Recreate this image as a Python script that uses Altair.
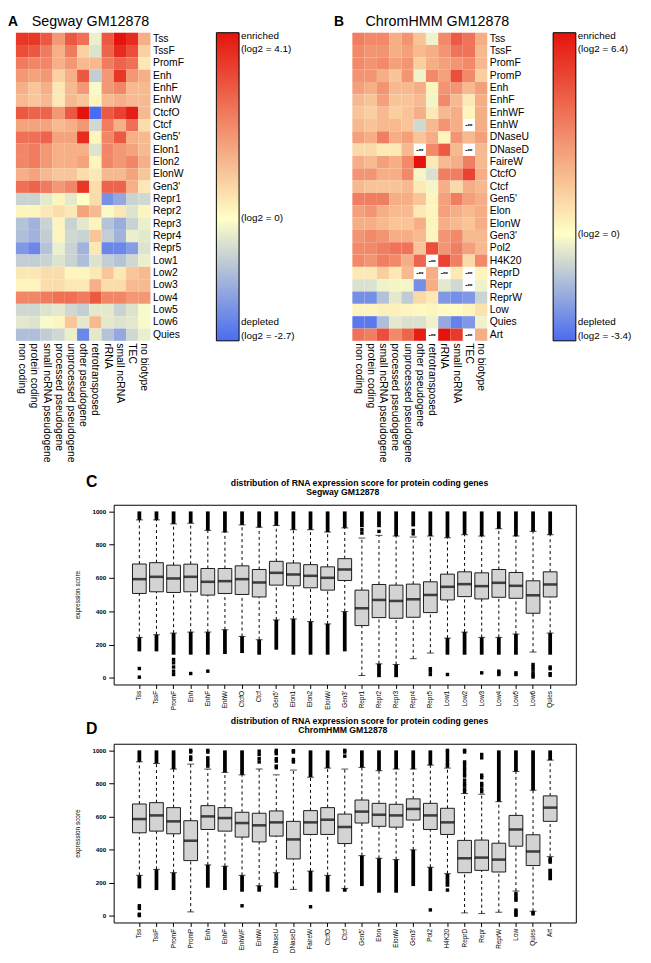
import altair as alt
import pandas as pd

# ------------------------------------------------------------------ data
biotypes = ["non coding", "protein coding", "small ncRNA pseudogene",
            "processed pseudogene", "unprocessed pseudogene", "other pseudogene",
            "retrotransposed", "rRNA", "small ncRNA", "TEC", "no biotype"]

segway_states = ["Tss", "TssF", "PromF", "Enh", "EnhF", "EnhW", "CtcfO", "Ctcf",
                 "Gen5'", "Elon1", "Elon2", "ElonW", "Gen3'", "Repr1", "Repr2",
                 "Repr3", "Repr4", "Repr5", "Low1", "Low2", "Low3", "Low4", "Low5",
                 "Low6", "Quies"]

chromhmm_states = ["Tss", "TssF", "PromF", "PromP", "Enh", "EnhF", "EnhWF", "EnhW",
                   "DNaseU", "DNaseD", "FaireW", "CtcfO", "Ctcf", "Gen5'", "Elon",
                   "ElonW", "Gen3'", "Pol2", "H4K20", "ReprD", "Repr", "ReprW",
                   "Low", "Quies", "Art"]

NINF = None  # log2 = -infinity (no overlap)

# log2 enrichment, rows = states, columns = biotypes
segway_log2 = [
    [3.5, 3.5, 2.9, 1.8, 2.9, 2.5, -0.3, 2.9, 4.1, 3.7, 1.4],
    [3.1, 2.9, 2.3, 1.4, 2.3, 0.8, -0.5, 2.7, 3.7, 3.1, 0.8],
    [2.3, 2.1, 2.1, 1.4, 1.8, 1.2, 1.2, 2.3, 2.7, 2.5, 0.4],
    [1.8, 1.6, 1.8, 0.8, 1.4, 2.9, -0.9, 1.8, 3.5, 1.8, 1.4],
    [1.4, 1.0, 1.4, 0.4, 1.2, 1.8, -0.1, 1.8, 2.1, 1.2, 1.2],
    [1.2, 1.0, 1.2, 0.4, 1.2, 1.0, 0.2, 1.2, 1.4, 1.2, 1.2],
    [2.9, 2.7, 2.7, 1.8, 2.9, 4.1, -2.7, 2.9, 3.3, 3.9, 1.2],
    [1.6, 1.6, 1.6, 1.2, 1.4, 1.8, -0.7, 2.3, 1.4, 2.5, 0.6],
    [2.5, 2.5, 2.7, 1.6, 1.6, 3.7, 0.2, 2.1, 2.9, 1.4, 1.2],
    [2.1, 2.3, 1.8, 1.4, 1.4, 1.4, -0.5, 2.1, 1.8, 1.6, 1.2],
    [2.1, 2.3, 1.8, 1.4, 1.4, 1.6, 0.2, 2.1, 1.8, 2.1, 1.4],
    [1.4, 1.6, 1.2, 1.0, 1.0, 0.6, 0.4, 1.2, 1.2, 1.6, 1.0],
    [2.5, 2.7, 2.3, 1.8, 2.1, 3.5, 0.6, 2.7, 2.7, 1.4, 0.4],
    [-0.8, -0.8, -0.4, 0.2, -0.4, 0.0, 0.6, -2.0, -1.6, -0.8, -0.7],
    [0.2, 0.2, 0.4, 0.6, 0.4, 1.6, 1.2, -0.1, 0.4, -0.5, 0.2],
    [-1.1, -1.4, -0.8, 0.2, -0.8, -0.4, 0.2, -1.1, -1.5, -0.8, -0.3],
    [-1.2, -1.4, -0.9, 0.2, -0.7, -0.8, 1.0, -0.9, -1.4, -0.3, -0.4],
    [-1.9, -2.2, -1.1, -0.3, -0.8, -1.4, 0.4, -2.2, -2.2, -1.8, -0.5],
    [-0.9, -0.9, -0.8, -0.5, -0.8, -1.2, -0.5, -0.9, -1.1, -0.7, -0.3],
    [0.4, 0.4, 0.6, 0.6, 0.2, 0.2, 0.4, 1.0, 0.4, 1.0, 1.2],
    [0.2, 0.2, 0.6, 0.6, 0.4, 0.4, 1.4, 0.6, 0.6, 1.2, 1.2],
    [2.1, 2.1, 2.3, 2.5, 2.5, 2.3, 2.9, 2.1, 2.1, 1.8, 1.8],
    [-0.7, -0.7, -0.5, -0.4, -0.7, -0.9, -0.4, -0.4, -0.8, -0.5, -0.1],
    [-0.4, -0.5, -0.1, 0.2, 1.0, -0.4, 1.2, -0.4, -0.5, -0.4, -0.1],
    [-1.2, -1.2, -0.9, -0.7, -0.3, -2.2, -0.4, -1.1, -1.6, -0.7, -0.3],
]

chromhmm_log2 = [
    [3.5, 3.2, 3.2, 2.2, 2.9, 1.6, -0.3, 3.2, 4.5, 3.8, 2.2],
    [3.2, 2.9, 2.9, 2.2, 2.6, 1.9, 2.2, 2.9, 3.8, 3.8, 1.9],
    [3.2, 2.9, 3.2, 2.6, 2.9, 1.3, 2.2, 2.6, 2.9, 3.2, 1.9],
    [2.9, 2.9, 2.2, 1.6, 2.9, -0.3, 3.2, 2.6, 4.8, 3.2, 1.3],
    [2.6, 2.2, 2.9, 1.9, 1.9, 2.2, 0.3, 2.9, 2.9, 1.9, 2.6],
    [1.9, 1.6, 2.6, 1.6, 1.6, 1.9, -0.2, 3.2, 1.9, 0.6, 2.2],
    [1.6, 1.3, 1.9, 1.3, 1.6, 2.2, 0.6, 1.9, 2.2, 0.3, 2.2],
    [1.9, 1.6, 1.9, 1.9, 1.6, -0.9, 1.9, 2.9, 2.2, NINF, 2.2],
    [2.6, 2.2, 3.5, 2.2, 2.6, 1.6, 2.2, 0.3, 2.9, 1.9, 2.6],
    [1.0, 1.0, 0.6, 0.6, 1.9, NINF, 3.2, 4.5, 1.9, NINF, 1.9],
    [2.2, 1.9, 2.6, 2.2, 3.2, 6.4, 0.6, 1.9, 2.2, 3.5, 1.9],
    [2.9, 2.9, 2.2, 2.2, 3.2, -0.2, -0.7, 3.5, 3.5, 5.1, 2.2],
    [1.9, 1.6, 1.6, 1.6, 1.9, 0.6, -0.2, 2.2, 1.0, 2.2, 1.9],
    [3.5, 3.5, 3.5, 2.2, 2.2, 1.6, 0.3, 2.6, 3.5, 2.6, 2.2],
    [2.6, 2.9, 2.2, 1.9, 1.9, 0.6, 0.3, 2.6, 2.2, 1.9, 2.2],
    [2.2, 2.2, 1.9, 1.6, 1.6, 2.2, 0.3, 2.2, 1.9, 1.6, 2.2],
    [2.9, 3.2, 2.9, 2.2, 2.2, 1.9, 0.3, 2.9, 3.2, 1.9, 1.9],
    [3.2, 3.2, 3.5, 3.8, 3.8, 1.6, 4.8, 2.9, 3.5, 2.6, 1.9],
    [3.2, 2.9, 3.5, 3.2, 2.2, 4.2, NINF, 5.1, 3.5, 1.0, 3.2],
    [0.6, 0.6, 1.3, 0.6, 1.9, NINF, 2.2, NINF, 0.6, NINF, 0.3],
    [-0.7, -0.7, -0.3, -0.2, -0.2, -2.6, 2.2, -0.5, -0.9, NINF, -0.3],
    [-2.6, -2.6, -1.4, -0.5, -1.2, 1.0, 0.6, -2.4, -2.6, -2.4, -1.0],
    [0.3, 0.3, 0.4, 0.4, 0.3, 0.2, 0.3, 0.1, 0.1, 0.3, 0.8],
    [-3.1, -3.1, -1.5, -0.5, -0.7, -0.7, -0.3, -2.0, -2.9, -2.4, -0.3],
    [3.8, 3.5, 4.8, 3.2, 4.2, 6.1, NINF, 6.4, 5.4, NINF, 2.2],
]

segway_min, segway_max = -2.7, 4.1
chromhmm_min, chromhmm_max = -3.4, 6.4

# --- box plot summaries (expression score), panel C (Segway)
c_q1 = [507, 517, 513, 517, 497, 507, 501, 486, 557, 553, 541, 527, 585,
        314, 362, 358, 364, 392, 468, 488, 474, 484, 478, 388, 486]
c_med = [593, 607, 597, 607, 577, 581, 593, 573, 631, 621, 613, 601, 651,
         418, 468, 462, 472, 498, 547, 563, 551, 571, 553, 496, 561]
c_q3 = [684, 692, 677, 683, 657, 657, 673, 651, 700, 690, 680, 667, 716,
        527, 561, 557, 563, 577, 623, 637, 631, 651, 633, 583, 637]
c_whi = [949, 949, 925, 929, 886, 876, 919, 905, 915, 890, 890, 876, 901,
         840, 856, 852, 846, 852, 842, 860, 852, 896, 852, 880, 860]
c_wlo = [243, 259, 269, 275, 275, 289, 249, 229, 348, 354, 338, 324, 398,
         14, 84, 80, 115, 149, 239, 275, 243, 243, 263, 155, 269]
# dense runs of outliers: (state, low, high)
c_out_runs = [
    ("Tss", 159, 243), ("TssF", 159, 259), ("PromF", 139, 269), ("Enh", 139, 275),
    ("EnhF", 139, 275), ("EnhW", 143, 289), ("CtcfO", 149, 249), ("Ctcf", 139, 229),
    ("Gen5'", 169, 348), ("Elon1", 139, 354), ("Elon2", 139, 338), ("ElonW", 139, 324),
    ("Gen3'", 159, 398), ("Repr2", 4, 84), ("Repr3", 4, 80), ("Low1", 139, 239),
    ("Low2", 139, 275), ("Low3", 139, 243), ("Low4", 139, 243), ("Low5", 139, 263),
    ("Quies", 139, 269),
    ("Tss", 949, 1000), ("TssF", 949, 1000), ("PromF", 925, 1000), ("Enh", 929, 1000),
    ("EnhF", 886, 1000), ("EnhW", 876, 1000), ("CtcfO", 919, 1000), ("Ctcf", 905, 1000),
    ("Gen5'", 915, 1000), ("Elon1", 890, 1000), ("Elon2", 890, 1000), ("ElonW", 876, 1000),
    ("Gen3'", 901, 1000), ("Repr1", 905, 1000), ("Repr2", 905, 1000), ("Repr3", 852, 1000),
    ("Repr4", 910, 1000), ("Repr5", 852, 1000), ("Low1", 842, 1000), ("Low2", 860, 1000),
    ("Low3", 852, 1000), ("Low4", 896, 1000), ("Low5", 852, 1000), ("Low6", 880, 1000),
    ("Quies", 860, 1000),
]
# isolated outliers: (state, value)
c_out_pts = [
    ("Tss", 56), ("Tss", 4), ("PromF", 110), ("PromF", 90), ("PromF", 65), ("PromF", 40),
    ("PromF", 20), ("Enh", 26), ("EnhF", 40), ("Repr1", 890), ("Repr1", 870),
    ("Repr2", 880), ("Repr4", 885), ("Repr4", 865), ("Repr5", 55), ("Repr5", 40),
    ("Repr5", 20), ("Low1", 20), ("Low3", 30), ("Low4", 40), ("Low4", 30), ("Low4", 20),
    ("Low5", 30), ("Low5", 20), ("Low6", 80), ("Low6", 65), ("Low6", 50), ("Low6", 30),
    ("Low6", 15), ("Low6", 5), ("Quies", 65), ("Quies", 55), ("Quies", 25), ("Quies", 15),
]

# --- panel D (ChromHMM)
d_q1 = [502, 512, 496, 334, 522, 512, 476, 447, 482, 344, 492, 492, 437,
        561, 541, 536, 579, 522, 492, 261, 275, 265, 421, 304, 571]
d_med = [585, 607, 571, 454, 601, 591, 561, 547, 565, 462, 565, 581, 537,
         630, 611, 607, 646, 607, 565, 348, 352, 340, 522, 389, 654]
d_q3 = [676, 684, 654, 575, 666, 654, 626, 620, 634, 571, 636, 654, 615,
        700, 680, 674, 707, 680, 650, 456, 458, 439, 607, 490, 725]
d_whi = [931, 921, 887, 917, 887, 867, 852, 887, 852, 881, 838, 893, 887,
         897, 877, 887, 887, 911, 893, 739, 735, 690, 873, 759, 941]
d_wlo = [245, 281, 261, 24, 308, 300, 245, 182, 261, 160, 271, 245, 166,
         364, 348, 340, 399, 294, 255, 18, 14, 22, 150, 28, 358]
d_out_runs = [
    ("Tss", 166, 245), ("TssF", 156, 281), ("PromF", 156, 261), ("Enh", 170, 308),
    ("EnhF", 156, 300), ("EnhWF", 146, 245), ("EnhW", 146, 182), ("DNaseU", 170, 261),
    ("FaireW", 146, 271), ("CtcfO", 146, 245), ("Ctcf", 146, 166), ("Gen5'", 180, 364),
    ("Elon", 140, 348), ("ElonW", 140, 340), ("Gen3'", 180, 399), ("Pol2", 150, 294),
    ("H4K20", 176, 255), ("Art", 215, 285),
    ("Tss", 931, 1000), ("TssF", 921, 1000), ("PromF", 887, 1000), ("EnhF", 867, 1000),
    ("EnhWF", 852, 1000), ("FaireW", 838, 1000), ("CtcfO", 893, 1000), ("Gen5'", 897, 1000),
    ("Elon", 877, 1000), ("ElonW", 887, 1000), ("Gen3'", 887, 1000), ("Pol2", 911, 1000),
    ("ReprW", 690, 1000), ("Low", 873, 1000), ("Quies", 759, 1000), ("Art", 941, 1000),
]
d_out_pts = [
    ("Tss", 61), ("Tss", 45), ("Tss", 10), ("Tss", 2), ("EnhWF", 61), ("FaireW", 55),
    ("Pol2", 36), ("H4K20", 156), ("Low", 135), ("Low", 120), ("Low", 105), ("Low", 95),
    ("Low", 35), ("Low", 25), ("Low", 12), ("Low", 4), ("Quies", 20), ("Quies", 12),
    ("Art", 345), ("Art", 335), ("Art", 325),
    ("PromP", 1000), ("PromP", 990), ("PromP", 960), ("PromP", 945),
    ("Enh", 1000), ("Enh", 990), ("Enh", 955), ("Enh", 940), ("Enh", 920), ("Enh", 905),
    ("EnhW", 995), ("EnhW", 975), ("EnhW", 950), ("EnhW", 930),
    ("DNaseU", 1000), ("DNaseU", 990), ("DNaseU", 980), ("DNaseU", 950), ("DNaseU", 935),
    ("DNaseU", 905), ("DNaseU", 895),
    ("DNaseD", 998), ("DNaseD", 990), ("DNaseD", 945), ("DNaseD", 930),
    ("Ctcf", 1000), ("Ctcf", 990), ("Ctcf", 965),
    ("H4K20", 1000), ("H4K20", 990), ("H4K20", 975), ("H4K20", 960), ("H4K20", 945),
    ("H4K20", 930), ("H4K20", 915), ("H4K20", 905),
    ("ReprD", 1000), ("ReprD", 990), ("ReprD", 930), ("ReprD", 915), ("ReprD", 895),
    ("ReprD", 880), ("ReprD", 860), ("ReprD", 845), ("ReprD", 820), ("ReprD", 800),
    ("ReprD", 785), ("ReprD", 765), ("ReprD", 750),
    ("Repr", 975), ("Repr", 955), ("Repr", 850), ("Repr", 835), ("Repr", 800),
    ("Repr", 785), ("Repr", 765), ("Repr", 750),
]

box_title = "distribution of RNA expression score for protein coding genes"
score_ticks = [0, 200, 400, 600, 800, 1000]

# ------------------------------------------------------------------ styling
FONT = "Liberation Sans"
W, H = 643, 955
BLUE, YEL, RED = "#4a6cf0", "#ffffc6", "#e4140c"


def heat_layers(states, matrix, lo, hi, x0, x1, y0, y1, leg_x):
    rows = []
    for s, vals in zip(states, matrix):
        for b, v in zip(biotypes, vals):
            rows.append({"state": s, "biotype": b, "value": v,
                         "ninf": "-\u221e" if v is None else ""})
    df = pd.DataFrame(rows)
    xs = alt.Scale(type="band", domain=biotypes, range=[x0, x1],
                   paddingInner=0, paddingOuter=0)
    ys = alt.Scale(type="band", domain=states, range=[y0, y1],
                   paddingInner=0, paddingOuter=0)
    cs = alt.Scale(domain=[lo, 0, hi], range=[BLUE, YEL, RED], interpolate="rgb")
    bar_scale = alt.Scale(domain=[lo, hi], range=[y1, y0])
    rect = alt.Chart(df).transform_filter("isValid(datum.value)").mark_rect().encode(
        x=alt.X("biotype:N", scale=xs, axis=alt.Axis(
            orient="bottom", offset=y1 - H, labelAngle=90, labelAlign="left",
            labelBaseline="middle", ticks=False, domain=False, labelPadding=2,
            labelFontSize=10.5, labelColor="black", title=None, labelLimit=0)),
        y=alt.Y("state:N", scale=ys, axis=alt.Axis(
            orient="right", offset=x1 - W, ticks=False, domain=False, labelPadding=2,
            labelFontSize=10.5, labelColor="black", title=None)),
        color=alt.Color("value:Q", scale=cs, legend=alt.Legend(
            orient="none", legendX=leg_x, legendY=y0, direction="vertical",
            gradientLength=y1 - y0, gradientThickness=23, title=None,
            values=[0], labelExpr="'(log2 = 0)'", labelOverlap=False,
            gradientStrokeColor="black", gradientStrokeWidth=1, labelFontSize=10,
            labelColor="black", labelOffset=2, padding=0, labelFont=FONT)),
    )
    ninf = alt.Chart(df).transform_filter("!isValid(datum.value)").mark_text(
        fontSize=7, fontWeight="bold", color="black").encode(
        x=alt.X("biotype:N", scale=xs, axis=None),
        y=alt.Y("state:N", scale=ys, axis=None),
        text="ninf:N")
    zero = alt.Chart(pd.DataFrame({"v": [0.0]})).mark_rule(
        color="black", strokeWidth=1).encode(
        y=alt.Y("v:Q", scale=bar_scale, axis=None),
        x=alt.value(leg_x), x2=alt.value(leg_x + 23))
    top_df = pd.DataFrame({"v": [hi], "txt": [["enriched", "(log2 = %s)" % hi]]})
    bot_df = pd.DataFrame({"v": [lo], "txt": [["depleted", "(log2 = %s)" % lo]]})
    top_txt = alt.Chart(top_df).mark_text(
        align="left", baseline="top", fontSize=10, lineHeight=14, dy=-2,
        color="black").encode(
        y=alt.Y("v:Q", scale=bar_scale, axis=None),
        x=alt.value(leg_x + 25), text="txt")
    bot_txt = alt.Chart(bot_df).mark_text(
        align="left", baseline="bottom", fontSize=10, lineHeight=14, dy=-14,
        color="black").encode(
        y=alt.Y("v:Q", scale=bar_scale, axis=None),
        x=alt.value(leg_x + 25), text="txt")
    return [rect, ninf, zero, top_txt, bot_txt]


def box_layers(states, q1, med, q3, wlo, whi, runs, pts, y_bot, y_top):
    x0, x1 = 107, 575
    xs = alt.Scale(type="band", domain=states, range=[x0, x1],
                   paddingInner=0, paddingOuter=1)
    ys = alt.Scale(domain=[-40, 1040], range=[y_bot, y_top], nice=False, zero=False)
    stats = pd.DataFrame({"state": states, "q1": q1, "med": med, "q3": q3,
                          "wlo": wlo, "whi": whi})
    seg = pd.DataFrame(
        [{"state": s, "a": a, "b": b} for s, a, b in zip(states, q3, whi)] +
        [{"state": s, "a": a, "b": b} for s, a, b in zip(states, wlo, q1)])
    caps = pd.DataFrame(
        [{"state": s, "v": v} for s, v in zip(states, whi)] +
        [{"state": s, "v": v} for s, v in zip(states, wlo)])
    run_df = pd.DataFrame(runs, columns=["state", "a", "b"])
    pt_df = pd.DataFrame(pts, columns=["state", "v"])

    def X(axis=None):
        return alt.X("state:N", scale=xs, axis=axis)

    x_axis = alt.Axis(orient="bottom", offset=y_bot - H, labelAngle=270,
                      labelAlign="right", labelBaseline="middle", tickSize=4,
                      labelPadding=2, labelFontSize=6.5, labelColor="black",
                      domainColor="black", tickColor="black", title=None)
    y_axis = alt.Axis(orient="left", offset=-x0, values=score_ticks, format="d",
                      tickSize=5, labelPadding=3, labelFontSize=6.3,
                      labelFontWeight="bold", labelColor="black", grid=False,
                      domainColor="black", tickColor="black",
                      title="expression score", titleFontSize=6.5,
                      titleFontWeight="normal", titleColor="black", titlePadding=12)
    top_axis = alt.Axis(orient="top", offset=-y_top, labels=False, ticks=False,
                        domainColor="black", title=None)
    right_axis = alt.Axis(orient="right", offset=x1 - W, labels=False, ticks=False,
                          grid=False, domainColor="black", title=None)

    whisk = alt.Chart(seg).mark_rule(color="black", strokeWidth=1,
                                     strokeDash=[3, 3]).encode(
        x=X(top_axis), y=alt.Y("a:Q", scale=ys, axis=right_axis), y2="b:Q")
    run = alt.Chart(run_df).mark_rule(color="black", strokeWidth=3.8).encode(
        x=X(), y=alt.Y("a:Q", scale=ys, axis=None), y2="b:Q")
    cap = alt.Chart(caps).mark_tick(color="black", size=7, thickness=1).encode(
        x=X(), y=alt.Y("v:Q", scale=ys, axis=None))
    box = alt.Chart(stats).mark_bar(width=13.9, fill="#d3d3d3", stroke="#1a1a1a",
                                    strokeWidth=1).encode(
        x=X(x_axis), y=alt.Y("q1:Q", scale=ys, axis=y_axis), y2="q3:Q")
    mid = alt.Chart(stats).mark_tick(color="black", size=13.9, thickness=2.6).encode(
        x=X(), y=alt.Y("med:Q", scale=ys, axis=None))
    dots = alt.Chart(pt_df).mark_square(color="black", size=12, opacity=1).encode(
        x=X(), y=alt.Y("v:Q", scale=ys, axis=None))
    return [whisk, run, cap, box, mid, dots]


def text_layer(rows, weight, align):
    df = pd.DataFrame(rows, columns=["txt", "x", "y", "size"])
    return alt.Chart(df).mark_text(fontWeight=weight, align=align,
                                   baseline="alphabetic", color="black").encode(
        x=alt.X("x:Q", scale=None), y=alt.Y("y:Q", scale=None),
        text="txt:N", size=alt.Size("size:Q", scale=None))


layers = []
layers += heat_layers(segway_states, segway_log2, segway_min, segway_max,
                      8, 144.3, 19, 331, 211)
layers += heat_layers(chromhmm_states, chromhmm_log2, chromhmm_min, chromhmm_max,
                      348.7, 485.3, 19, 331, 552)
layers += box_layers(segway_states, c_q1, c_med, c_q3, c_wlo, c_whi,
                     c_out_runs, c_out_pts, 679, 497)
layers += box_layers(chromhmm_states, d_q1, d_med, d_q3, d_wlo, d_whi,
                     d_out_runs, d_out_pts, 920, 739)
layers.append(text_layer([("A", 0, 12, 14), ("B", 330, 12, 14),
                          ("C", 79, 479, 16), ("D", 79, 729, 16)], "bold", "left"))
layers.append(text_layer([("Segway GM12878", 24, 12, 14.5),
                          ("ChromHMM GM12878", 362, 12, 14.5)], "normal", "left"))
layers.append(text_layer([(box_title, 356, 477.5, 8.8), ("Segway GM12878", 339, 487, 8.8),
                          (box_title, 356, 718.5, 8.8), ("ChromHMM GM12878", 339, 728, 8.8)],
                         "bold", "center"))

chart = alt.layer(*layers).resolve_scale(
    x="independent", y="independent", color="independent", size="independent"
).properties(
    width=W, height=H, padding=0, autosize=alt.AutoSizeParams(type="none")
).configure(font=FONT).configure_view(stroke=None)

chart.save("out.html", embed_options={"renderer": "svg", "actions": False})
